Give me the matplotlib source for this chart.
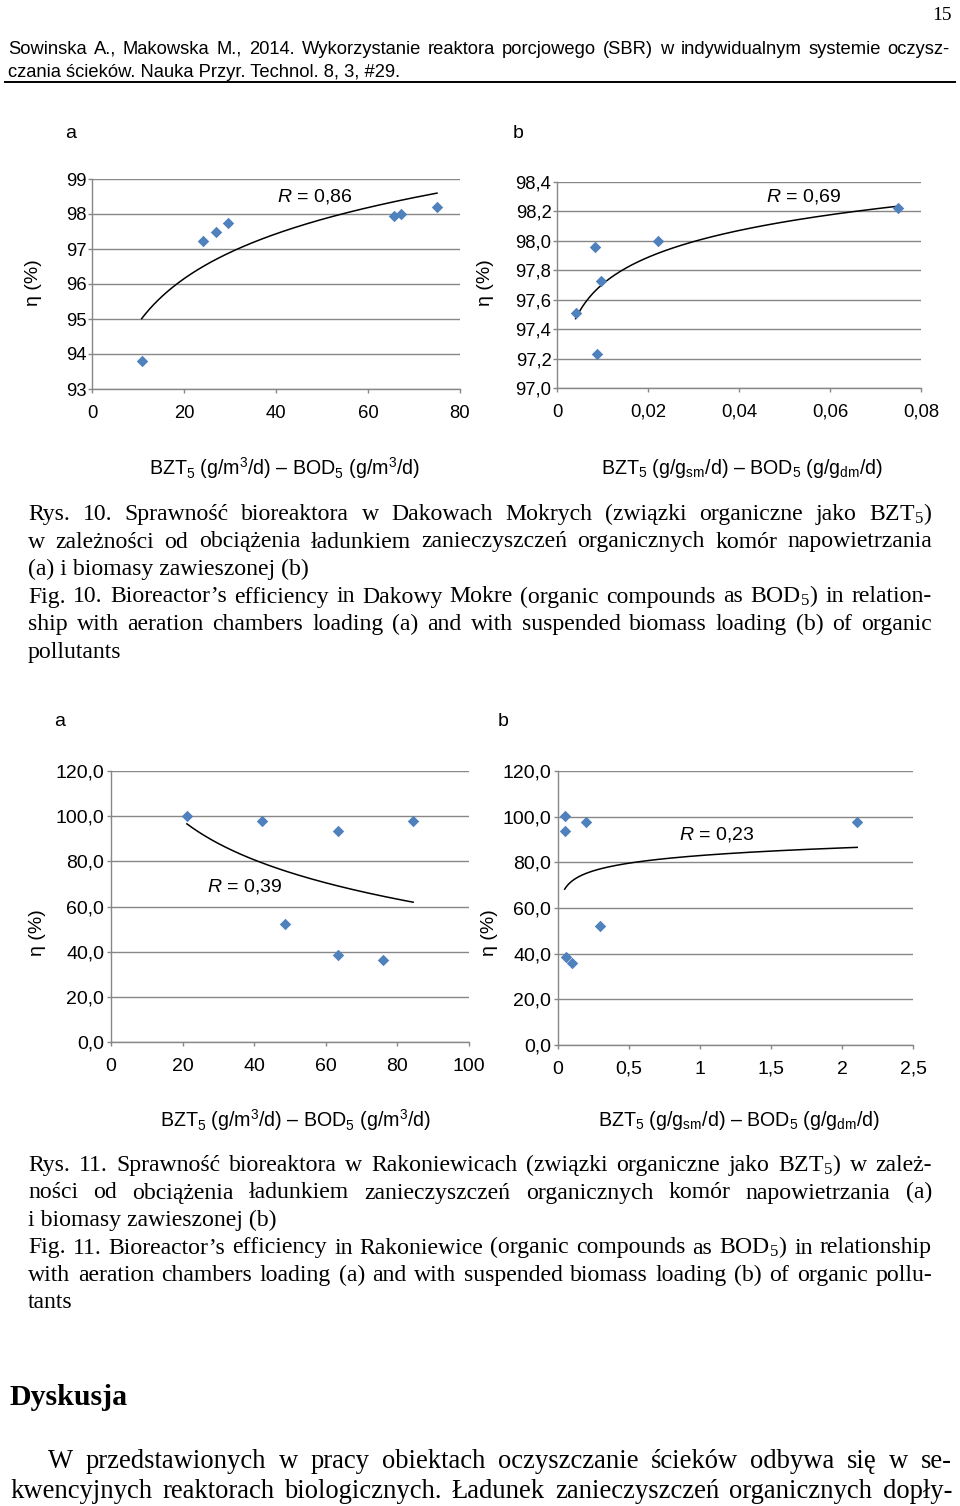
import numpy as np
import matplotlib
matplotlib.use('Agg')
import matplotlib.pyplot as plt
from matplotlib.ticker import FuncFormatter, MultipleLocator

# %% Data read from the page (loading vs. efficiency)
dak_load_a = [10.8, 24.1, 26.9, 29.6, 65.6, 67.1, 75.0]
dak_eff_a = [93.8, 97.22, 97.5, 97.74, 97.95, 98.0, 98.21]
dak_load_b = [0.0041, 0.0083, 0.0088, 0.0097, 0.0223, 0.0749]
dak_eff_b = [97.51, 97.96, 97.23, 97.73, 98.0, 98.22]
rak_load_a = [21.2, 42.2, 48.6, 63.3, 63.3, 76.0, 84.4]
rak_eff_a = [100.1, 97.8, 52.4, 93.5, 38.6, 36.2, 97.8]
rak_load_b = [0.049, 0.047, 0.200, 0.294, 0.054, 0.099, 2.107]
rak_eff_b = [100.2, 93.6, 97.7, 52.3, 38.7, 36.1, 97.7]

r_labels = ["0,86", "0,69", "0,39", "0,23"]

xlabel_a = r"BZT$_\mathregular{5}$ (g/m$^\mathregular{3}$/d) – BOD$_\mathregular{5}$ (g/m$^\mathregular{3}$/d)"
xlabel_b = r"BZT$_\mathregular{5}$ (g/g$_\mathregular{sm}$/d) – BOD$_\mathregular{5}$ (g/g$_\mathregular{dm}$/d)"
ylabel = "η (%)"

header_lines = [
    "Sowinska A., Makowska M., 2014. Wykorzystanie reaktora porcjowego (SBR) w indywidualnym systemie oczysz-",
    "czania ścieków. Nauka Przyr. Technol. 8, 3, #29.",
]
caption10 = [
    r"Rys. 10. Sprawność bioreaktora w Dakowach Mokrych (związki organiczne jako BZT$_\mathregular{5}$)",
    "w zależności od obciążenia ładunkiem zanieczyszczeń organicznych komór napowietrzania",
    "(a) i biomasy zawieszonej (b)",
    r"Fig. 10. Bioreactor’s efficiency in Dakowy Mokre (organic compounds as BOD$_\mathregular{5}$) in relation-",
    "ship with aeration chambers loading (a) and with suspended biomass loading (b) of organic",
    "pollutants",
]
caption11 = [
    r"Rys. 11. Sprawność bioreaktora w Rakoniewicach (związki organiczne jako BZT$_\mathregular{5}$) w zależ-",
    "ności od obciążenia ładunkiem zanieczyszczeń organicznych komór napowietrzania (a)",
    "i biomasy zawieszonej (b)",
    r"Fig. 11. Bioreactor’s efficiency in Rakoniewice (organic compounds as BOD$_\mathregular{5}$) in relationship",
    "with aeration chambers loading (a) and with suspended biomass loading (b) of organic pollu-",
    "tants",
]
body_lines = [
    "W przedstawionych w pracy obiektach oczyszczanie ścieków odbywa się w se-",
    "kwencyjnych reaktorach biologicznych. Ładunek zanieczyszczeń organicznych dopły-",
]

# %% Settings
W, H = 960, 1506
BLUE = '#4F81BD'
GRID = '#878787'
SERIF = 'Liberation Serif'
SANS = 'Liberation Sans'

plt.rcParams['font.family'] = [SANS, 'DejaVu Sans']
plt.rcParams['mathtext.fontset'] = 'custom'
plt.rcParams['mathtext.rm'] = SANS
plt.rcParams['mathtext.it'] = SANS + ':italic'

fig = plt.figure(figsize=(W / 100, H / 100), dpi=100)
renderer = fig.canvas.get_renderer()


def put(x, y, s, **kw):
    # place text using page pixel coordinates (y from top)
    return fig.text(x / W, 1 - y / H, s, **kw)


def justify(line, x0, x1, y, **kw):
    words = line.split(' ')
    items = [put(x0, y, w, ha='left', va='baseline', **kw) for w in words]
    widths = [t.get_window_extent(renderer).width for t in items]
    gap = (x1 - x0 - sum(widths)) / max(len(words) - 1, 1)
    x = x0
    for t, w in zip(items, widths):
        t.set_x(x / W)
        x += w + gap


def paragraph(lines, flags, x0s, x1, y0, step, **kw):
    for i, (line, just) in enumerate(zip(lines, flags)):
        y = y0 + i * step
        if just:
            justify(line, x0s[i], x1, y, **kw)
        else:
            put(x0s[i], y, line, ha='left', va='baseline', **kw)


def comma(fmt):
    return FuncFormatter(lambda v, p: (fmt % v).replace('.', ','))


def panel(rect, x, y, xlim, xstep, ylim, ystep, xfmt, yfmt, fs, pad):
    x0, y0, x1, y1 = rect
    ax = fig.add_axes([x0 / W, 1 - y1 / H, (x1 - x0) / W, (y1 - y0) / H])
    ax.scatter(x, y, marker='D', s=34, color=BLUE, linewidths=0, zorder=3, clip_on=False)
    # logarithmic trend line fitted to the points
    coef = np.polyfit(np.log(x), y, 1)
    xs = np.geomspace(min(x), max(x), 200)
    ax.plot(xs, np.polyval(coef, np.log(xs)), color='black', lw=1.1, zorder=2)
    ax.set_xlim(xlim)
    ax.set_ylim(ylim)
    ax.xaxis.set_major_locator(MultipleLocator(xstep))
    ax.yaxis.set_major_locator(MultipleLocator(ystep))
    ax.xaxis.set_major_formatter(comma(xfmt))
    ax.yaxis.set_major_formatter(comma(yfmt))
    ax.grid(axis='y', color=GRID, lw=1.0)
    ax.set_axisbelow(True)
    for s in ['top', 'right']:
        ax.spines[s].set_visible(False)
    for s in ['left', 'bottom']:
        ax.spines[s].set_color(GRID)
        ax.spines[s].set_linewidth(1.0)
    ax.tick_params(colors=GRID, labelcolor='black', length=3, width=1.0, labelsize=fs)
    ax.tick_params(axis='y', pad=pad)
    ax.tick_params(axis='x', pad=8.5)
    ax.patch.set_alpha(0)
    return ax


# %% Header
put(952, 20, "15", ha='right', va='baseline', family=SERIF, fontsize=14)
justify(header_lines[0], 8, 950, 54, fontsize=13.2)
put(8, 77, header_lines[1], ha='left', va='baseline', fontsize=13.2)
fig.add_artist(plt.Line2D([5 / W, 955 / W], [1 - 82 / H, 1 - 82 / H], color='black', lw=1.4))

# %% Figure 10
put(71, 133, "a", ha='center', va='center', fontsize=14)
put(518, 133, "b", ha='center', va='center', fontsize=14)
panel((92, 179, 460, 389), dak_load_a, dak_eff_a, (0, 80), 20, (93, 99), 1, '%g', '%g', 13.3, 1)
panel((557, 182, 921, 388), dak_load_b, dak_eff_b, (0, 0.08), 0.02, (97.0, 98.4), 0.2, '%g', '%.1f', 13.3, 1)
put(33, 283, ylabel, rotation=90, ha='center', va='center', fontsize=14)
put(485, 283, ylabel, rotation=90, ha='center', va='center', fontsize=14)
put(315, 197, "$R$ = " + r_labels[0], ha='center', va='center', fontsize=14)
put(804, 196, "$R$ = " + r_labels[1], ha='center', va='center', fontsize=14)
put(285, 468, xlabel_a, ha='center', va='center', fontsize=14.1)
put(742, 468, xlabel_b, ha='center', va='center', fontsize=14.1)

flags = [True, True, False, True, True, False]
paragraph(caption10, flags, [28] * 6, 932, 520, 27.5, family=SERIF, fontsize=17.1)

# %% Figure 11
put(60, 721, "a", ha='center', va='center', fontsize=14)
put(503, 721, "b", ha='center', va='center', fontsize=14)
panel((111, 771, 469, 1042), rak_load_a, rak_eff_a, (0, 100), 20, (0, 120), 20, '%g', '%.1f', 14, 2)
panel((558, 771, 913, 1045), rak_load_b, rak_eff_b, (0, 2.5), 0.5, (0, 120), 20, '%g', '%.1f', 14, 2)
put(38, 933, ylabel, rotation=90, ha='center', va='center', fontsize=14)
put(489, 933, ylabel, rotation=90, ha='center', va='center', fontsize=14)
put(245, 886, "$R$ = " + r_labels[2], ha='center', va='center', fontsize=14)
put(717, 835, "$R$ = " + r_labels[3], ha='center', va='center', fontsize=14)
put(296, 1120, xlabel_a, ha='center', va='center', fontsize=14.1)
put(739, 1120, xlabel_b, ha='center', va='center', fontsize=14.1)

paragraph(caption11, flags, [28] * 6, 932, 1171, 27.5, family=SERIF, fontsize=17.1)

# %% Discussion
put(10, 1405, "Dyskusja", ha='left', va='baseline', family=SERIF, fontsize=21.5, weight='bold')
paragraph(body_lines, [True, True], [48, 10], 952, 1468, 30, family=SERIF, fontsize=19.2)

fig.savefig('out.png', dpi=100)
